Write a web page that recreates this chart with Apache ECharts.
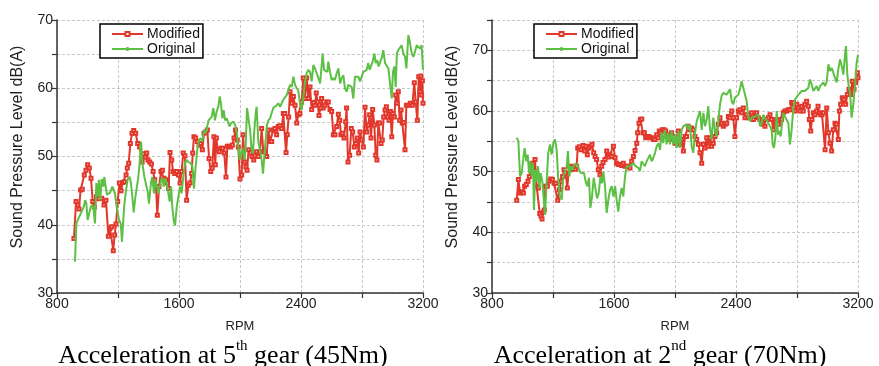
<!DOCTYPE html>
<html><head><meta charset="utf-8">
<script src="https://cdn.jsdelivr.net/npm/echarts@6/dist/echarts.min.js"></script>
<style>html,body{margin:0;padding:0;background:#fff}#c{width:879px;height:366px}</style>
</head><body><div id="c"></div><script>
// ---- data (RPM, dB(A)) ----
const modified5th = [[911,38.0],[925,43.4],[936,42.9],[944,42.3],[955,45.1],[966,45.2],[979,47.3],[990,48.0],[1001,48.8],[1012,48.3],[1023,46.8],[1034,43.4],[1045,42.6],[1058,44.1],[1071,43.8],[1093,43.9],[1108,42.9],[1121,43.6],[1137,38.3],[1148,39.5],[1159,39.7],[1169,36.2],[1178,38.5],[1187,40.1],[1198,43.4],[1209,46.1],[1220,45.0],[1231,46.2],[1242,46.3],[1253,47.3],[1261,48.3],[1270,49.0],[1281,51.9],[1292,53.4],[1303,53.8],[1316,53.4],[1329,51.9],[1342,51.4],[1358,49.2],[1368,50.4],[1379,49.9],[1388,50.5],[1397,49.5],[1408,49.2],[1419,48.9],[1430,47.8],[1441,46.6],[1449,45.6],[1458,41.4],[1469,45.6],[1482,47.8],[1491,48.0],[1502,46.8],[1513,46.6],[1524,46.1],[1532,45.3],[1541,50.6],[1552,49.5],[1561,47.8],[1572,47.5],
[1585,47.8],[1596,47.3],[1607,46.1],[1617,47.8],[1628,50.5],[1639,50.1],[1650,43.6],[1661,45.8],[1672,46.1],[1683,47.5],[1690,50.5],[1698,52.9],[1709,52.7],[1720,52.2],[1731,51.7],[1742,51.9],[1753,51.0],[1764,53.4],[1775,53.6],[1786,53.9],[1797,49.7],[1808,47.8],[1818,48.3],[1829,52.9],[1838,48.8],[1845,52.7],[1853,51.0],[1864,50.7],[1875,51.2],[1886,51.2],[1897,50.5],[1908,47.0],[1917,51.5],[1928,51.5],[1939,51.4],[1950,51.7],[1961,52.7],[1971,53.9],[1982,52.4],[1989,51.4],[2000,46.7],[2011,47.3],[2020,53.2],[2031,49.2],[2039,48.5],[2046,48.0],[2057,51.0],[2068,50.5],[2079,50.0],[2090,49.5],[2098,50.1],[2109,50.7],[2120,50.0],[2131,50.7],[2142,54.1],[2153,50.7],[2164,50.7],[2175,50.0],[2186,53.9],[2197,52.2],[2208,52.2],[2218,53.9],[2229,54.1],[2240,53.2],[2251,54.4],[2262,54.5],[2273,54.1],[2284,56.3],[2293,56.3],[2302,50.6],[2310,53.2],[2319,55.8],[2328,59.5],[2339,57.8],[2350,58.8],
[2361,57.5],[2372,54.9],[2382,56.1],[2393,56.3],[2404,58.0],[2415,61.5],[2426,58.5],[2437,61.5],[2448,58.5],[2459,60.2],[2470,56.9],[2481,57.9],[2492,57.5],[2500,59.3],[2509,58.0],[2518,56.0],[2527,57.1],[2535,58.5],[2546,57.1],[2557,57.5],[2568,58.0],[2579,58.0],[2590,56.9],[2601,56.6],[2612,53.2],[2623,53.2],[2634,54.4],[2645,56.2],[2654,55.3],[2662,53.2],[2671,53.4],[2682,52.7],[2693,55.1],[2699,57.1],[2708,49.2],[2719,50.2],[2730,54.1],[2739,53.6],[2750,51.4],[2761,51.9],[2769,52.7],[2778,50.5],[2787,53.6],[2798,52.4],[2809,51.4],[2820,57.2],[2831,53.6],[2841,54.6],[2850,56.1],[2859,52.7],[2870,56.9],[2881,54.6],[2890,50.2],[2898,49.5],[2907,54.9],[2916,54.9],[2925,51.9],[2933,52.4],[2942,55.8],[2951,56.8],[2960,57.3],[2968,55.8],[2977,55.3],[2986,56.6],[2995,52.9],[3003,56.3],[3012,55.8],[3021,59.0],[3029,57.8],[3038,59.5],[3047,55.3],[3056,56.8],[3064,54.9],[3073,55.0],[3082,51.0],[3091,57.5],[3104,57.5],[3117,57.8],[3130,57.5],[3143,60.8],[3152,58.0],[3163,55.3],[3172,61.7],[3180,59.5],[3186,61.8],[3191,59.0],[3196,61.1],[3200,57.8]];

const original5th = [[918,34.6],[927,40.2],[940,40.9],[957,41.7],[975,42.6],[984,43.6],[992,43.2],[1001,40.7],[1012,40.5],[1021,42.6],[1032,42.9],[1040,42.2],[1049,40.2],[1058,46.1],[1067,44.1],[1075,46.6],[1084,43.6],[1093,46.7],[1104,45.6],[1110,47.0],[1119,45.6],[1128,44.4],[1137,44.6],[1148,44.7],[1163,45.6],[1172,45.6],[1180,44.6],[1194,42.2],[1207,40.7],[1218,40.2],[1226,37.5],[1240,42.6],[1250,44.6],[1263,46.6],[1277,47.0],[1285,46.1],[1294,44.1],[1303,41.8],[1314,44.1],[1322,45.3],[1331,46.6],[1340,48.5],[1351,52.2],[1360,49.0],[1373,47.0],[1386,47.0],[1395,44.8],[1403,43.1],[1417,46.3],[1425,47.0],[1436,44.6],[1445,46.6],[1456,46.8],[1467,44.6],[1480,46.3],[1489,46.9],[1500,45.6],[1508,46.8],[1519,46.1],[1530,44.6],[1539,43.4],[1548,45.6],[1556,42.6],[1565,40.7],[1574,39.9],
[1585,42.6],[1596,44.1],[1607,45.6],[1617,44.6],[1628,47.0],[1639,49.0],[1650,49.5],[1661,49.2],[1677,49.0],[1688,48.5],[1698,45.3],[1709,48.5],[1720,51.0],[1731,52.4],[1742,52.7],[1753,52.2],[1764,53.9],[1775,53.4],[1786,53.4],[1794,55.3],[1805,55.3],[1814,55.8],[1825,57.1],[1836,55.3],[1847,56.6],[1858,57.3],[1867,58.8],[1875,57.8],[1884,55.6],[1893,56.8],[1902,55.3],[1913,55.6],[1923,54.9],[1932,54.4],[1941,54.9],[1950,54.9],[1958,55.1],[1969,54.6],[1978,53.6],[1989,53.4],[1998,49.5],[2006,50.5],[2017,51.2],[2028,49.5],[2037,51.2],[2046,57.1],[2055,57.1],[2066,53.9],[2076,51.0],[2085,50.5],[2094,53.9],[2103,56.3],[2109,57.3],[2120,52.2],[2131,51.0],[2142,49.5],[2151,47.5],[2160,50.2],[2168,52.4],[2177,54.6],[2186,55.3],[2197,55.6],[2208,55.8],[2218,57.1],[2229,57.3],[2240,57.5],[2251,57.8],[2264,57.3],[2273,57.8],[2284,58.3],[2295,58.3],[2306,59.0],[2317,59.7],[2328,60.5],[2339,60.2],[2350,61.7],
[2361,60.5],[2372,60.0],[2382,59.7],[2393,57.8],[2404,56.8],[2415,58.5],[2426,61.0],[2437,62.2],[2448,62.7],[2459,62.4],[2470,61.0],[2481,63.4],[2492,62.9],[2503,62.9],[2514,61.5],[2525,60.7],[2535,63.2],[2542,65.1],[2551,62.7],[2562,62.7],[2573,62.4],[2579,63.9],[2590,62.4],[2601,61.2],[2612,61.5],[2623,61.2],[2634,62.2],[2645,62.9],[2656,60.7],[2667,61.5],[2678,61.9],[2688,60.0],[2699,59.5],[2710,60.5],[2721,60.7],[2732,60.2],[2743,58.5],[2754,61.7],[2765,61.9],[2776,61.7],[2787,61.0],[2798,61.7],[2809,62.4],[2820,62.4],[2831,62.7],[2841,63.7],[2850,62.7],[2859,62.9],[2870,63.9],[2881,65.1],[2890,63.7],[2900,64.1],[2909,63.2],[2920,63.9],[2931,64.6],[2940,65.6],[2951,63.7],[2962,63.9],[2973,62.9],[2984,62.7],[2995,58.5],[3003,62.4],[3012,63.2],[3021,60.2],[3029,65.1],[3038,65.6],[3049,65.8],[3060,66.3],[3071,65.1],[3082,64.6],[3091,62.9],[3104,67.8],[3115,66.6],[3126,65.1],[3137,64.6],[3148,65.4],[3159,66.3],[3169,66.1],[3180,65.8],[3191,66.3],[3200,62.7]];

const modified2nd = [[962,45.3],[973,48.7],[984,46.5],[995,46.7],[1006,46.5],[1014,47.6],[1025,47.9],[1036,48.4],[1045,49.2],[1054,50.3],[1065,51.4],[1073,50.1],[1082,52.0],[1093,47.6],[1104,47.3],[1113,43.1],[1121,42.7],[1128,42.2],[1137,43.3],[1143,43.7],[1150,47.6],[1163,47.6],[1174,48.4],[1185,48.8],[1196,48.7],[1207,48.1],[1218,48.1],[1231,45.3],[1242,47.0],[1253,48.4],[1263,49.2],[1272,50.3],[1283,49.8],[1294,47.3],[1305,50.9],[1316,50.3],[1327,50.8],[1338,50.9],[1347,50.4],[1355,50.9],[1362,53.9],[1373,54.1],[1384,53.6],[1397,54.3],[1408,53.4],[1416,54.2],[1425,52.8],[1436,53.9],[1447,54.2],[1456,54.5],[1467,53.1],[1476,52.5],[1486,52.0],[1497,50.3],[1508,49.5],[1519,50.9],[1528,51.5],[1541,52.0],[1552,53.4],[1563,52.4],[1574,52.8],
[1585,52.5],[1596,54.2],[1607,52.3],[1617,51.4],[1628,51.2],[1639,51.2],[1650,51.0],[1661,51.4],[1672,50.9],[1683,50.9],[1694,50.8],[1705,50.6],[1716,51.7],[1727,52.5],[1738,53.5],[1749,54.7],[1755,56.4],[1764,58.0],[1773,58.6],[1782,58.7],[1790,56.4],[1799,56.4],[1808,55.6],[1818,55.8],[1829,55.8],[1838,55.6],[1849,55.6],[1858,55.3],[1869,55.3],[1880,56.1],[1889,55.6],[1897,56.7],[1906,56.4],[1917,56.9],[1928,56.9],[1939,56.7],[1950,55.8],[1958,56.1],[1967,55.3],[1978,56.4],[1989,55.8],[2000,54.7],[2011,55.6],[2022,56.7],[2033,54.5],[2044,55.3],[2055,53.4],[2066,55.8],[2076,55.8],[2087,57.5],[2098,56.9],[2109,57.2],[2120,56.9],[2131,55.8],[2142,55.3],[2153,54.5],[2164,53.1],[2175,51.4],[2186,54.5],[2197,53.9],[2208,55.6],[2218,54.2],[2229,55.6],[2240,54.2],[2251,54.7],[2262,55.8],[2273,56.4],[2284,57.8],[2295,58.9],[2306,58.0],[2317,57.5],[2328,57.8],[2339,58.0],[2350,59.1],
[2361,58.9],[2372,60.0],[2382,58.9],[2393,55.8],[2404,58.9],[2415,60.0],[2426,60.2],[2437,59.7],[2448,60.5],[2459,58.9],[2470,59.4],[2481,58.9],[2492,59.4],[2503,59.7],[2514,58.6],[2525,59.1],[2535,59.7],[2546,58.9],[2557,58.6],[2568,58.3],[2579,57.8],[2590,57.5],[2601,58.6],[2612,58.9],[2623,59.4],[2634,58.6],[2645,56.9],[2656,58.3],[2667,58.6],[2678,57.8],[2688,58.6],[2699,58.6],[2710,59.7],[2721,60.0],[2732,60.0],[2743,60.2],[2754,60.2],[2765,61.4],[2776,61.4],[2787,60.0],[2798,61.1],[2809,60.5],[2820,60.0],[2831,60.8],[2841,60.0],[2852,61.1],[2863,61.6],[2874,60.8],[2881,58.6],[2890,56.7],[2898,58.6],[2907,59.7],[2918,59.4],[2929,60.0],[2938,60.8],[2946,59.7],[2955,59.4],[2964,59.4],[2973,59.7],[2984,53.6],[2995,60.5],[3006,56.4],[3016,54.7],[3027,53.4],[3038,56.9],[3049,58.0],[3060,57.8],[3071,55.3],[3078,60.0],[3086,61.1],[3097,62.2],[3108,61.9],[3119,61.1],[3130,62.7],[3141,63.6],[3152,62.7],[3163,64.9],[3174,63.6],[3185,64.7],[3196,66.3],[3200,65.5]];

const original2nd = [[962,55.6],[973,55.0],[984,49.2],[995,49.8],[1006,52.3],[1014,53.9],[1025,51.7],[1034,52.8],[1043,49.8],[1051,51.7],[1060,49.2],[1069,51.4],[1075,43.7],[1084,50.3],[1093,48.4],[1102,50.9],[1111,47.3],[1119,49.8],[1130,48.4],[1139,45.6],[1148,42.9],[1159,48.7],[1169,53.1],[1180,54.5],[1191,52.8],[1202,54.7],[1213,55.3],[1224,53.6],[1235,48.4],[1246,45.9],[1257,45.4],[1268,49.2],[1279,50.0],[1290,50.9],[1298,53.4],[1307,49.2],[1318,50.9],[1329,50.3],[1340,51.2],[1351,50.9],[1360,51.2],[1371,50.3],[1382,49.8],[1392,50.0],[1403,49.8],[1414,48.4],[1425,47.6],[1436,49.0],[1445,44.0],[1456,45.9],[1467,49.0],[1478,47.3],[1489,45.6],[1500,46.5],[1511,49.2],[1521,48.1],[1530,50.0],[1541,47.6],[1552,43.2],[1563,45.4],[1574,47.0],
[1585,47.6],[1596,45.9],[1607,47.6],[1617,45.4],[1628,43.4],[1639,45.9],[1650,47.3],[1661,45.9],[1672,49.2],[1683,50.9],[1694,51.2],[1705,50.9],[1716,51.2],[1727,51.4],[1738,51.0],[1749,50.9],[1760,50.6],[1770,50.1],[1781,51.7],[1792,51.4],[1803,50.9],[1814,51.7],[1825,52.0],[1836,52.8],[1847,51.7],[1858,52.3],[1869,53.1],[1880,54.2],[1891,54.7],[1902,53.6],[1912,56.4],[1923,54.7],[1934,56.9],[1945,54.5],[1956,56.4],[1967,54.5],[1978,56.7],[1989,54.5],[2000,56.1],[2011,53.9],[2022,56.7],[2033,53.9],[2044,56.9],[2055,57.5],[2066,57.5],[2076,57.8],[2087,56.9],[2098,57.8],[2109,54.2],[2120,53.1],[2131,56.4],[2142,58.3],[2153,58.0],[2164,60.0],[2175,56.9],[2186,59.7],[2197,57.5],[2208,58.6],[2218,60.8],[2229,57.2],[2240,55.3],[2251,58.9],[2262,56.9],[2273,55.8],[2284,58.3],[2295,61.1],[2306,62.5],[2317,63.0],[2328,63.3],[2339,62.7],[2350,62.5],
[2361,63.6],[2372,61.6],[2382,61.1],[2393,62.2],[2404,62.5],[2415,62.7],[2426,63.6],[2437,64.9],[2448,63.8],[2459,63.6],[2470,61.6],[2481,58.9],[2492,58.3],[2503,58.9],[2514,58.9],[2525,59.1],[2535,58.9],[2546,59.4],[2557,57.5],[2568,58.0],[2579,59.4],[2590,58.9],[2601,58.6],[2612,58.0],[2623,57.5],[2634,56.9],[2640,54.5],[2649,53.9],[2658,55.6],[2667,60.0],[2675,56.1],[2684,56.7],[2693,55.8],[2702,58.0],[2710,59.7],[2721,59.1],[2732,58.9],[2743,58.0],[2754,54.5],[2765,56.9],[2776,60.5],[2787,61.9],[2798,62.2],[2809,62.7],[2820,62.7],[2831,63.3],[2841,63.0],[2852,63.3],[2863,63.3],[2874,63.8],[2885,65.2],[2896,64.4],[2907,63.3],[2918,63.6],[2929,64.1],[2940,63.3],[2951,64.1],[2962,63.8],[2973,64.7],[2984,64.1],[2995,64.9],[3006,67.7],[3016,66.6],[3027,67.1],[3038,66.3],[3049,65.5],[3060,64.7],[3071,66.9],[3082,68.5],[3093,67.4],[3104,66.0],[3115,69.3],[3121,70.7],[3130,66.0],[3139,64.1],[3148,63.0],[3158,58.9],[3169,61.1],[3180,64.1],[3191,67.9],[3200,69.3]];

const xTickLabels = [800, 1600, 2400, 3200];
const yTickLabels = [30, 40, 50, 60, 70];
const seriesNames = ['Modified', 'Original'];
const captions = [['Acceleration at 5', 'th', ' gear (45Nm)'], ['Acceleration at 2', 'nd', ' gear (70Nm)']];
const yAxisTitle = 'Sound Pressure Level dB(A)';
const xAxisTitle = 'RPM';

// ---- styling ----
const RED = '#e2372b', GREEN = '#5cc044';
const SANS = 'Liberation Sans, Arial, sans-serif';
const AXIS_COLOR = '#333';

function xAxis(gi) {
  return {
    type: 'value', gridIndex: gi, min: 800, max: 3200, interval: 400,
    name: xAxisTitle, nameLocation: 'middle', nameGap: 27,
    nameTextStyle: { fontSize: 13, fontFamily: SANS, color: '#222' },
    axisLine: { show: true, onZero: false, lineStyle: { color: AXIS_COLOR, width: 1.5 } },
    axisTick: { show: true, inside: false, length: 5, lineStyle: { color: AXIS_COLOR, width: 1.2 } },
    axisLabel: { show: true, margin: 4, fontSize: 14, fontFamily: SANS, color: '#222',
      formatter: v => xTickLabels.includes(v) ? String(v) : '' },
    splitLine: { show: true, lineStyle: { color: '#c8c8c8', type: [3, 2], width: 1 } }
  };
}
function yAxis(gi, max) {
  return {
    type: 'value', gridIndex: gi, min: 30, max: max, interval: 5,
    name: yAxisTitle, nameLocation: 'middle', nameGap: 31, nameRotate: 90,
    nameTextStyle: { fontSize: 16, fontFamily: SANS, color: '#222', padding: [0, 0, 0, 19] },
    axisLine: { show: true, onZero: false, lineStyle: { color: AXIS_COLOR, width: 1.5 } },
    axisTick: { show: true, inside: false, length: 5, lineStyle: { color: AXIS_COLOR, width: 1.2 } },
    axisLabel: { show: true, margin: 4, fontSize: 14, fontFamily: SANS, color: '#222',
      formatter: v => yTickLabels.includes(v) ? String(v) : '' },
    splitLine: { show: true, lineStyle: { color: '#c8c8c8', type: [3, 2], width: 1 } }
  };
}
function legend(left, suffix) {
  return {
    data: seriesNames.map(n => n + suffix), left: left, top: 24, orient: 'vertical',
    itemWidth: 31, itemHeight: 5, itemGap: 1, padding: [3, 3, 2, 11],
    borderColor: '#000', borderWidth: 1.5, backgroundColor: '#fff', borderRadius: 0,
    selectedMode: false,
    textStyle: { fontSize: 14, fontFamily: SANS, color: '#111', padding: [0, 0, 0, -1] },
    formatter: n => n.trim()
  };
}
function modSeries(name, gi, data) {
  return { name, type: 'line', xAxisIndex: gi, yAxisIndex: gi, data,
    symbol: 'emptyRect', symbolSize: 3, showSymbol: true,
    lineStyle: { color: RED, width: 2 }, itemStyle: { color: RED, borderWidth: 1 },
    emphasis: { disabled: true }, z: 2 };
}
function origSeries(name, gi, data, sym) {
  return { name, type: 'line', xAxisIndex: gi, yAxisIndex: gi, data,
    symbol: sym, symbolSize: 2, showSymbol: false,
    lineStyle: { color: GREEN, width: 2 }, itemStyle: { color: GREEN },
    emphasis: { disabled: true }, z: 3 };
}
function caption(x, parts) {
  return {
    type: 'text', x: x, y: 354,
    style: {
      text: '{a|' + parts[0] + '}{s|' + parts[1] + '}{a|' + parts[2] + '}',
      align: 'center', verticalAlign: 'middle',
      rich: {
        a: { fontSize: 26, fontFamily: 'Liberation Serif, Times New Roman, serif', fill: '#000', lineHeight: 30, verticalAlign: 'bottom' },
        s: { fontSize: 15, fontFamily: 'Liberation Serif, Times New Roman, serif', fill: '#000', lineHeight: 30, verticalAlign: 'top' }
      }
    }
  };
}

const chart = echarts.init(document.getElementById('c'), null, { renderer: 'canvas' });
chart.setOption({
  animation: false,
  backgroundColor: '#fff',
  grid: [
    { left: 57, top: 20, width: 366, height: 273, containLabel: false, outerBoundsMode: 'none' },
    { left: 492, top: 20, width: 366, height: 273, containLabel: false, outerBoundsMode: 'none' }
  ],
  xAxis: [xAxis(0), xAxis(1)],
  yAxis: [yAxis(0, 70), yAxis(1, 75)],
  legend: [legend(100, ''), legend(534, ' ')],
  series: [
    modSeries('Modified', 0, modified5th),
    origSeries('Original', 0, original5th, 'none'),
    modSeries('Modified ', 1, modified2nd),
    origSeries('Original ', 1, original2nd, 'circle')
  ],
  graphic: [caption(223, captions[0]), caption(660, captions[1])]
});
</script></body></html>
